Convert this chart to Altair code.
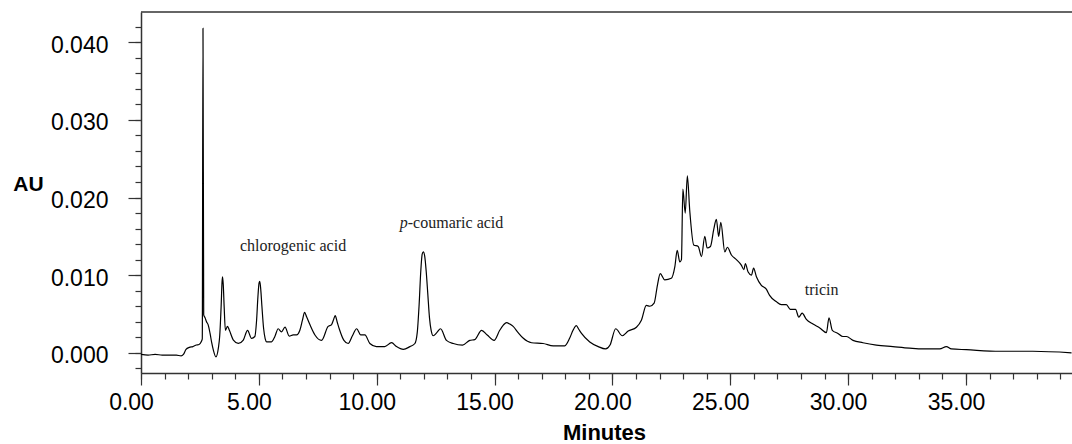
import altair as alt
import pandas as pd

# Chromatogram trace (minutes, AU)
TIME = [0.00, 0.30, 0.60, 0.90, 1.20, 1.50, 1.70, 1.80, 1.91, 2.05, 2.20, 2.35, 2.46, 2.55, 2.60,
        2.63, 2.66, 2.72, 2.78, 2.85, 2.93, 3.00, 3.07, 3.18, 3.28, 3.34, 3.40, 3.44, 3.46, 3.49,
        3.53, 3.58, 3.67, 3.75, 3.92, 4.13, 4.34, 4.52, 4.69, 4.83, 4.90, 4.96, 5.01, 5.04, 5.08,
        5.13, 5.20, 5.27, 5.33, 5.54, 5.68, 5.82, 5.96, 6.11, 6.29, 6.46, 6.60, 6.74, 6.85, 6.94,
        7.03, 7.17, 7.38, 7.66, 7.94, 8.08, 8.16, 8.24, 8.32, 8.41, 8.61, 8.79, 8.97, 9.15, 9.32,
        9.50, 9.71, 9.99, 10.34, 10.63, 10.84, 11.13, 11.41, 11.62, 11.72, 11.80, 11.87, 11.93,
        11.98, 12.04, 12.10, 12.17, 12.24, 12.31, 12.40, 12.55, 12.71, 12.96, 13.25, 13.64, 13.95,
        14.16, 14.45, 14.69, 14.98, 15.22, 15.38, 15.51, 15.65, 15.79, 16.00, 16.21, 16.57, 17.06,
        17.49, 17.98, 18.19, 18.33, 18.47, 18.58, 18.69, 19.04, 19.40, 19.71, 19.90, 20.14, 20.42,
        20.67, 21.02, 21.23, 21.44, 21.59, 21.77, 21.91, 22.03, 22.22, 22.50, 22.65, 22.75, 22.86,
        22.93, 22.99, 23.09, 23.18, 23.28, 23.45, 23.64, 23.78, 23.92, 24.02, 24.16, 24.30, 24.41,
        24.51, 24.60, 24.77, 24.88, 25.05, 25.26, 25.47, 25.58, 25.64, 25.76, 25.90, 25.99, 26.11,
        26.32, 26.53, 26.67, 26.95, 27.17, 27.38, 27.55, 27.77, 27.91, 28.05, 28.23, 28.51, 28.80,
        29.08, 29.19, 29.33, 29.57, 29.78, 29.93, 30.21, 30.63, 31.20, 31.90, 32.61, 33.18, 33.89,
        34.17, 34.38, 35.02, 36.43, 37.84, 39.48]
AU = [-0.0002, -0.0003, -0.0002, -0.0003, -0.0003, -0.0003, -0.0004, -0.0002, 0.00044, 0.0007,
      0.0008, 0.0010, 0.00108, 0.0014, 0.0018,
      0.0418, 0.0049, 0.0045, 0.0040, 0.0036, 0.0025, 0.0013, 0.00035, -0.00052, 0.00057, 0.0022,
      0.0060, 0.0092, 0.0098, 0.0088,
      0.0058, 0.0029, 0.0034, 0.0029, 0.00164, 0.00121, 0.00164, 0.0029, 0.00185, 0.0021, 0.0040,
      0.0072, 0.0090, 0.0092, 0.0082,
      0.0060, 0.0032, 0.0018, 0.00142, 0.00142, 0.0021, 0.0031, 0.0027, 0.0033, 0.00215, 0.0023,
      0.0023, 0.0029, 0.0042, 0.0052,
      0.0046, 0.0036, 0.0023, 0.0016, 0.0034, 0.0036, 0.0042, 0.0048, 0.0040, 0.0031, 0.0016,
      0.0012, 0.0022, 0.0031, 0.0023,
      0.0023, 0.0012, 0.0008, 0.0008, 0.0013, 0.0008, 0.00044, 0.0008, 0.0012, 0.0026, 0.0062,
      0.0105, 0.0127,
      0.0130, 0.0124, 0.0105, 0.0075, 0.0045, 0.0029, 0.0022, 0.0026, 0.0031, 0.0016, 0.0012,
      0.0010, 0.0016,
      0.0017, 0.0029, 0.0023, 0.0016, 0.0029, 0.0036, 0.0039, 0.0037, 0.0034, 0.0026, 0.0019,
      0.0013, 0.0012,
      0.0009, 0.0009, 0.0019, 0.0029, 0.0035, 0.0030, 0.0025, 0.0014, 0.0008, 0.0005, 0.0010,
      0.0031, 0.0022,
      0.0028, 0.0033, 0.0042, 0.0061, 0.0060, 0.0064, 0.0087, 0.0102, 0.0094, 0.0096, 0.0111,
      0.0132, 0.0117,
      0.0120, 0.0211, 0.0180, 0.0228, 0.0184, 0.0139, 0.0137, 0.0124, 0.0150, 0.0135, 0.0137,
      0.0159, 0.0172,
      0.0150, 0.0168, 0.0130, 0.0136, 0.0126, 0.0120, 0.0113, 0.0107, 0.0115, 0.0104, 0.0100,
      0.0109, 0.0098,
      0.0087, 0.0082, 0.0074, 0.0066, 0.0062, 0.0062, 0.0056, 0.0056, 0.0046, 0.0051, 0.0043,
      0.0037, 0.0032,
      0.0026, 0.0045, 0.0029, 0.0025, 0.0021, 0.0021, 0.0016, 0.0013, 0.0010, 0.0008, 0.0006,
      0.0005, 0.0005,
      0.0008, 0.0005, 0.0004, 0.0002, 0.0002, 0.0000]

X_MAJOR = [0, 5, 10, 15, 20, 25, 30, 35]
X_MINOR = [0, 1, 2, 3, 4, 5, 6, 7, 8, 9, 10, 11, 12, 13, 14, 15, 16, 17, 18, 19, 20,
           21, 22, 23, 24, 25, 26, 27, 28, 29, 30, 31, 32, 33, 34, 35, 36, 37, 38, 39]
Y_MAJOR = [0.000, 0.010, 0.020, 0.030, 0.040]
Y_MINOR = [-0.002, 0.000, 0.002, 0.004, 0.006, 0.008, 0.010, 0.012, 0.014, 0.016, 0.018,
           0.020, 0.022, 0.024, 0.026, 0.028, 0.030, 0.032, 0.034, 0.036, 0.038, 0.040, 0.042]
X_DOMAIN = [0, 39.5]
Y_DOMAIN = [-0.0026, 0.0439]

ANNOT_TEXT = ["chlorogenic acid", "tricin"]
ANNOT_T = [4.20, 28.16]
ANNOT_AU = [0.01314, 0.00744]

PC_ITALIC = ["p"]
PC_REST = ["-coumaric acid"]
PC_T = [10.98]
PC_AU = [0.0161]

W, H = 931, 361
SANS = "Liberation Sans"
SERIF = "Liberation Serif"
AXC = "#333333"

df = pd.DataFrame({"t": TIME, "au": AU})

x_major = alt.Axis(
    title="Minutes", values=X_MAJOR, orient="bottom", format=".2f",
    tickSize=12, labelPadding=6, labelOffset=-10, labelFont=SANS, labelFontSize=23,
    labelColor="black", labelFlush=False, labelOverlap=False, labelBound=False,
    titleFont=SANS, titleFontSize=22, titleFontWeight="bold", titleColor="black",
    titleX=463, titleY=66, titleAlign="center", titleBaseline="alphabetic",
    domainColor=AXC, domainWidth=1.5, tickColor=AXC, tickWidth=1.2, grid=False,
)
y_major = alt.Axis(
    title="AU", values=Y_MAJOR, orient="left", format=".3f",
    tickSize=13, labelPadding=20, labelOffset=3, labelFont=SANS, labelFontSize=23,
    labelColor="black", labelFlush=False, labelOverlap=False, labelBound=False,
    titleFont=SANS, titleFontSize=21, titleFontWeight="bold", titleColor="black",
    titleAngle=0, titleX=-113, titleY=178, titleAlign="center", titleBaseline="alphabetic",
    domainColor=AXC, domainWidth=1.5, tickColor=AXC, tickWidth=1.2, grid=False,
)
x_minor = alt.Axis(
    title=None, values=X_MINOR, orient="bottom", labels=False, domain=False,
    tickSize=6, tickColor=AXC, tickWidth=1.2, grid=False,
)
y_minor = alt.Axis(
    title=None, values=Y_MINOR, orient="left", labels=False, domain=False,
    tickSize=6, tickColor=AXC, tickWidth=1.2, grid=False,
)

xs = alt.Scale(domain=X_DOMAIN, nice=False, zero=False)
ys = alt.Scale(domain=Y_DOMAIN, nice=False, zero=False)

line = alt.Chart(df).mark_line(
    color="black", strokeWidth=1.2, clip=True, interpolate="monotone"
).encode(
    x=alt.X("t:Q", scale=xs, axis=x_major),
    y=alt.Y("au:Q", scale=ys, axis=y_major),
)

minor = alt.Chart(df).mark_line(opacity=0).encode(
    x=alt.X("t:Q", scale=xs, axis=x_minor),
    y=alt.Y("au:Q", scale=ys, axis=y_minor),
)

top_frame = alt.Chart(pd.DataFrame({"k": [0]})).mark_rule(color=AXC, strokeWidth=1.5).encode(
    x=alt.value(0), x2=alt.value(W), y=alt.value(0)
)


def XN():
    return alt.X("t:Q", scale=xs, axis=None)


def YN():
    return alt.Y("au:Q", scale=ys, axis=None)


ann_df = pd.DataFrame({"t": ANNOT_T, "au": ANNOT_AU, "label": ANNOT_TEXT})
ann = alt.Chart(ann_df).mark_text(
    font=SERIF, fontSize=16, color="#222222", align="left", baseline="alphabetic"
).encode(x=XN(), y=YN(), text="label:N")

pc_df = pd.DataFrame({"t": PC_T, "au": PC_AU, "p": PC_ITALIC, "rest": PC_REST})
pc_italic = alt.Chart(pc_df).mark_text(
    font=SERIF, fontSize=16, fontStyle="italic", color="#222222", align="left", baseline="alphabetic"
).encode(x=XN(), y=YN(), text="p:N")
pc_rest = alt.Chart(pc_df).mark_text(
    font=SERIF, fontSize=16, color="#222222", align="left", baseline="alphabetic", dx=8
).encode(x=XN(), y=YN(), text="rest:N")

chart = alt.layer(line, minor, ann, pc_italic, pc_rest, top_frame).resolve_axis(
    x="independent", y="independent"
).properties(
    width=W, height=H,
    autosize=alt.AutoSizeParams(type="none"),
    padding={"left": 141, "top": 12, "right": 0, "bottom": 71},
    background="white",
).configure_view(stroke=None)

chart.save("out.html", embed_options={"renderer": "svg", "actions": False})
